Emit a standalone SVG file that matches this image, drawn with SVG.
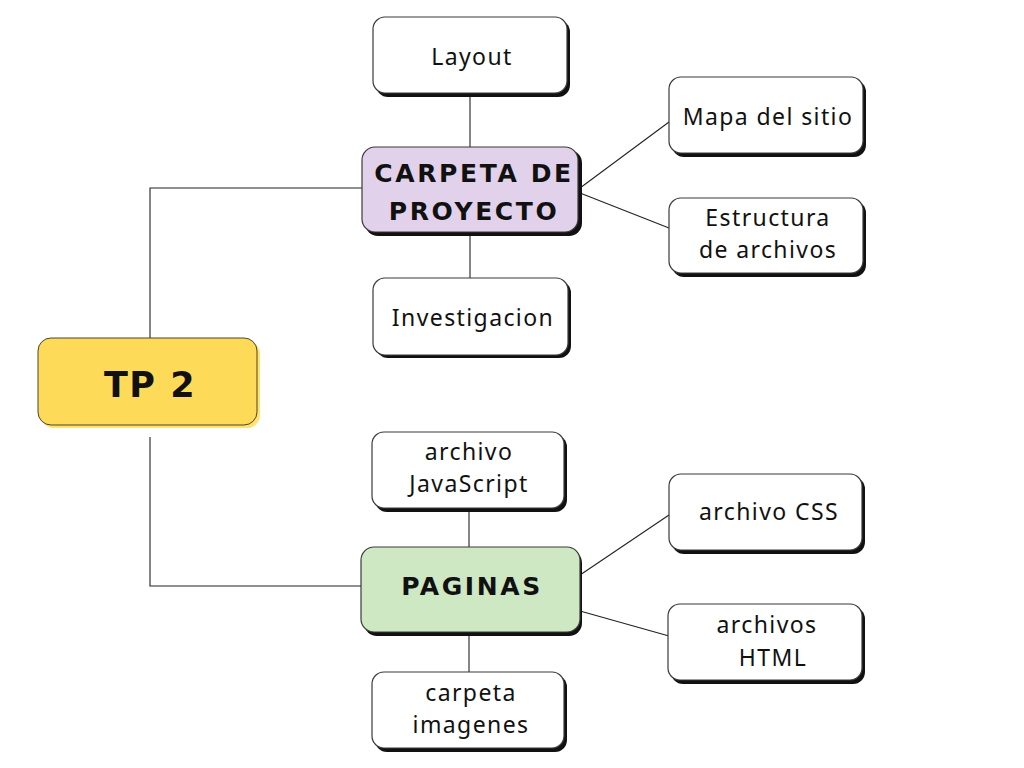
<svg xmlns="http://www.w3.org/2000/svg" width="1024" height="768" viewBox="0 0 1024 768">
<style>
.box{fill:#ffffff;stroke:#3a3a3a;stroke-width:1.2}
.sh{fill:#111111}
.t{font-family:"Noto Sans","Liberation Sans",sans-serif;font-size:23px;letter-spacing:1.4px;fill:#111111;text-anchor:middle}
.h{font-family:"DejaVu Sans","Liberation Sans",sans-serif;font-weight:bold;font-size:25px;letter-spacing:2.6px;fill:#111111;text-anchor:middle}
.c{fill:none;stroke:#222222;stroke-width:1.1}
</style>
<rect width="1024" height="768" fill="#ffffff"/>
<g id="connectors">
<polyline class="c" points="150,338 150,188 362,188"/>
<polyline class="c" points="150,437 150,586 361,586"/>
<line class="c" x1="470" y1="96" x2="470" y2="147"/>
<line class="c" x1="470" y1="232" x2="470" y2="278"/>
<line class="c" x1="580" y1="188" x2="669" y2="122"/>
<line class="c" x1="580" y1="193" x2="669" y2="228"/>
<line class="c" x1="469" y1="508" x2="469" y2="547"/>
<line class="c" x1="469" y1="632" x2="469" y2="672"/>
<line class="c" x1="580" y1="575" x2="669" y2="515"/>
<line class="c" x1="580" y1="611" x2="669" y2="636"/>
</g>
<g id="tp2">
<rect x="41" y="341" width="219" height="87" rx="13" fill="#ffe36e"/>
<rect x="38" y="338" width="219" height="87" rx="13" fill="#fddb58" stroke="#4a4430" stroke-width="1"/>
<text x="150" y="397" font-family="'DejaVu Sans','Liberation Sans',sans-serif" font-weight="bold" font-size="35" letter-spacing="1.5" fill="#111" text-anchor="middle">TP 2</text>
</g>
<g id="carpeta">
<rect class="sh" x="365" y="150" width="217" height="86" rx="13"/>
<rect x="362" y="147" width="216" height="85" rx="13" fill="#e2d1ea" stroke="#3a3a3a" stroke-width="1.2"/>
<text class="h" x="474" y="182">CARPETA DE</text>
<text class="h" x="474" y="220">PROYECTO</text>
</g>
<g id="paginas">
<rect class="sh" x="364" y="550" width="218" height="86" rx="13"/>
<rect x="361" y="547" width="219" height="85" rx="13" fill="#cde8c3" stroke="#3a3a3a" stroke-width="1.2"/>
<text class="h" x="472" y="595">PAGINAS</text>
</g>
<g id="layout">
<rect class="sh" x="376" y="20" width="194" height="77" rx="12"/>
<rect class="box" x="373" y="17" width="194" height="76" rx="12"/>
<text class="t" x="472" y="65">Layout</text>
</g>
<g id="investigacion">
<rect class="sh" x="376" y="281" width="195" height="77" rx="12"/>
<rect class="box" x="373" y="278" width="195" height="77" rx="12"/>
<text class="t" x="473" y="326">Investigacion</text>
</g>
<g id="mapa">
<rect class="sh" x="672" y="80" width="194" height="77" rx="12"/>
<rect class="box" x="669" y="77" width="194" height="76" rx="12"/>
<text class="t" x="768" y="125">Mapa del sitio</text>
</g>
<g id="estructura">
<rect class="sh" x="672" y="201" width="194" height="76" rx="12"/>
<rect class="box" x="669" y="198" width="194" height="75" rx="12"/>
<text class="t" x="768" y="226">Estructura</text>
<text class="t" x="768" y="258">de archivos</text>
</g>
<g id="javascript">
<rect class="sh" x="375" y="435" width="192" height="77" rx="12"/>
<rect class="box" x="372" y="432" width="192" height="76" rx="12"/>
<text class="t" x="469" y="460">archivo</text>
<text class="t" x="469" y="492">JavaScript</text>
</g>
<g id="css">
<rect class="sh" x="672" y="477" width="193" height="77" rx="12"/>
<rect class="box" x="669" y="474" width="193" height="76" rx="12"/>
<text class="t" x="769" y="520">archivo CSS</text>
</g>
<g id="html">
<rect class="sh" x="671" y="607" width="194" height="77" rx="12"/>
<rect class="box" x="668" y="604" width="194" height="76" rx="12"/>
<text class="t" x="767" y="633">archivos</text>
<text class="t" x="773" y="666">HTML</text>
</g>
<g id="imagenes">
<rect class="sh" x="375" y="675" width="192" height="77" rx="12"/>
<rect class="box" x="372" y="672" width="192" height="76" rx="12"/>
<text class="t" x="471" y="701">carpeta</text>
<text class="t" x="471" y="733">imagenes</text>
</g>
</svg>
